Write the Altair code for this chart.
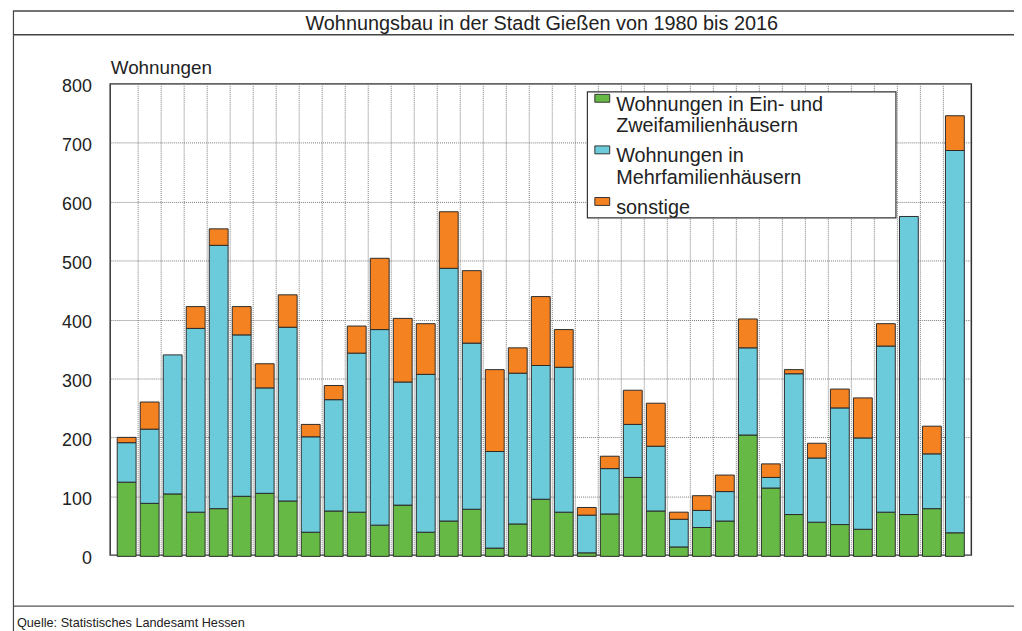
import altair as alt
import pandas as pd

FONT = "Liberation Sans"

years = list(range(1980, 2017))
ein_zwei = [126, 90, 106, 75, 81, 102, 107, 94, 41, 77,
            75, 53, 87, 41, 60, 80, 14, 55, 97, 75,
            6, 72, 134, 77, 16, 49, 60, 206, 116, 71,
            58, 54, 46, 75, 71, 81, 40]
mehr = [67, 126, 236, 312, 447, 274, 179, 295, 162, 189,
        270, 332, 209, 268, 429, 282, 164, 256, 227, 246,
        64, 77, 90, 110, 47, 29, 50, 148, 18, 239,
        109, 198, 155, 282, 506, 93, 649]
sonstige = [9, 46, 0, 37, 28, 48, 41, 55, 21, 24,
            46, 121, 108, 86, 96, 123, 139, 43, 117, 64,
            13, 21, 58, 73, 12, 25, 28, 49, 23, 7,
            25, 32, 68, 38, 0, 47, 59]
series = ["Wohnungen in Ein- und Zweifamilienhäusern",
          "Wohnungen in Mehrfamilienhäusern",
          "sonstige"]
colors = ["#67b946", "#6ccbdb", "#f58220"]
y_ticks = list(range(0, 900, 100))
x_label_years = list(range(1980, 2017, 2))
title_text = "Wohnungsbau in der Stadt Gießen von 1980 bis 2016"
y_title = "Wohnungen"
source_text = "Quelle: Statistisches Landesamt Hessen"

rows = []
for i, vals in enumerate([ein_zwei, mehr, sonstige]):
    for yr, v in zip(years, vals):
        rows.append({"Jahr": yr, "Reihe": series[i], "Wohnungen": v, "Ordnung": i})
df = pd.DataFrame(rows)

W, H = 868, 475
xscale = alt.Scale(domain=[years[0] - 0.5, years[-1] + 0.5], nice=False, zero=False)

grid = alt.Chart(pd.DataFrame({"g": [yr + 0.5 for yr in years[:-1]]})).mark_rule(
    color="#7a7a7a", strokeDash=[1, 1], strokeWidth=1
).encode(x=alt.X("g:Q", scale=xscale, axis=None))

label_expr = "split(replace(replace(datum.label, 'und ', 'und|'), 'in M', 'in|M'), '|')"

bars = alt.Chart(df).transform_filter("datum.Wohnungen > 0").mark_bar(
    width=19, stroke="#2a2a2a", strokeWidth=1, yOffset=1.25, y2Offset=-1.25
).encode(
    x=alt.X("Jahr:Q", scale=xscale,
            axis=alt.Axis(values=x_label_years, format="d", grid=False, ticks=False,
                          domain=False, labelFontSize=15, labelFont=FONT, labelPadding=16,
                          labelColor="#222", title=None)),
    y=alt.Y("Wohnungen:Q", stack="zero", scale=alt.Scale(domain=[0, 800], nice=False),
            axis=alt.Axis(values=y_ticks, grid=True, gridColor="#7a7a7a", gridDash=[1, 1],
                          ticks=False, domain=False, labelFontSize=18, labelFont=FONT,
                          labelColor="#222", labelPadding=19, labelOffset=3,
                          title=y_title, titleAngle=0, titleAlign="left",
                          titleBaseline="alphabetic", titleX=0, titleY=-10,
                          titleFontSize=19, titleFont=FONT, titleFontWeight="normal",
                          titleColor="#222")),
    color=alt.Color("Reihe:N", scale=alt.Scale(domain=series, range=colors),
                    legend=alt.Legend(title=None, orient="none", legendX=486, legendY=1,
                                      labelFontSize=20, labelFont=FONT, labelColor="#222",
                                      labelBaseline="top", labelExpr=label_expr, labelLimit=0,
                                      symbolType="M-1,-0.06H1V1H-1Z", symbolSize=225,
                                      symbolStrokeColor="#333", symbolStrokeWidth=1,
                                      symbolOpacity=1, labelOffset=4, rowPadding=0, padding=0)),
    order=alt.Order("Ordnung:Q", sort="ascending"),
)

one = pd.DataFrame({"k": [0]})

legend_box = alt.Chart(one).mark_rect(fill="white", stroke="#333", strokeWidth=1.2).encode(
    x=alt.value(481), x2=alt.value(792), y=alt.value(8), y2=alt.value(135))

frame_top = alt.Chart(one).mark_rule(color="#444", strokeWidth=1.5).encode(
    x=alt.value(-97.5), x2=alt.value(920), y=alt.value(-73.5))
frame_title = alt.Chart(one).mark_rule(color="#444", strokeWidth=1.5).encode(
    x=alt.value(-97.5), x2=alt.value(920), y=alt.value(-49.5))
frame_foot = alt.Chart(one).mark_rule(color="#555", strokeWidth=1.2).encode(
    x=alt.value(-97.5), x2=alt.value(920), y=alt.value(526.5))
frame_left = alt.Chart(one).mark_rule(color="#444", strokeWidth=1.2).encode(
    x=alt.value(-97.5), y=alt.value(-74), y2=alt.value(560))

title = alt.Chart(pd.DataFrame({"t": [title_text]})).mark_text(
    font=FONT, fontSize=20, color="#222", align="center", baseline="alphabetic"
).encode(x=alt.value(435), y=alt.value(-54), text="t:N")

footer = alt.Chart(pd.DataFrame({"t": [source_text]})).mark_text(
    font=FONT, fontSize=12.8, color="#222", align="left", baseline="alphabetic"
).encode(x=alt.value(-94), y=alt.value(547), text="t:N")

chart = alt.layer(grid, bars, legend_box, frame_top, frame_title, frame_foot, frame_left,
                  title, footer).properties(
    width=W, height=H,
    padding={"left": 103, "top": 74, "right": 43, "bottom": 74},
    autosize=alt.AutoSizeParams(type="none"),
).configure_view(stroke="#333", strokeWidth=1.5)

chart.save("out.html", embed_options={"renderer": "svg", "actions": False})
